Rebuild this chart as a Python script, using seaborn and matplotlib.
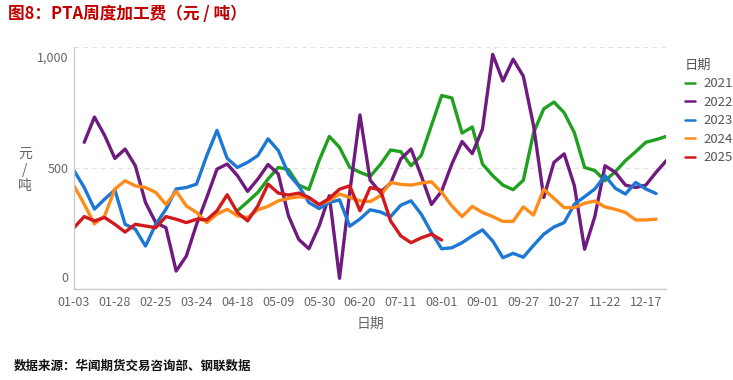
import pandas as pd
import matplotlib
matplotlib.use('Agg')
import matplotlib.pyplot as plt
import matplotlib.transforms as mtransforms
from matplotlib.lines import Line2D
import seaborn as sns

# category axis: 59 weekly dates, every 4th one labelled
n_cat = 59
tick_step = 4
tick_labels = ['01-03', '01-28', '02-25', '03-24', '04-18', '05-09', '05-30', '06-20',
               '07-11', '08-01', '09-01', '09-27', '10-27', '11-22', '12-17']

years = ['2021', '2022', '2023', '2024', '2025']
colors = ['#1fa01f', '#6e1a7e', '#1c78d4', '#ff8c1a', '#d2191d']

# first category index of each year
start_2021 = 16
start_2022 = 1
start_2023 = 0
start_2024 = 0
start_2025 = 0

fee_2021 = [324, 361, 400, 455, 503, 494, 430, 412, 531, 631, 586, 503, 483, 466, 515,
            575, 568, 510, 552, 676, 800, 790, 645, 670, 517, 469, 430, 411, 450, 646,
            745, 773, 729, 646, 503, 490, 448, 485, 531, 568, 607, 618, 631]
fee_2022 = [607, 711, 635, 540, 579, 510, 358, 275, 254, 75, 137, 268, 379, 496, 517,
            469, 404, 455, 515, 476, 303, 206, 167, 261, 386, 45, 400, 720, 450, 400,
            438, 538, 579, 469, 350, 405, 517, 610, 560, 662, 970, 860, 950, 880, 676,
            379, 524, 559, 427, 165, 300, 510, 483, 430, 420, 430, 483, 531]
fee_2023 = [490, 420, 331, 372, 410, 268, 248, 178, 268, 330, 414, 420, 434, 552, 656,
            540, 503, 524, 552, 621, 573, 476, 427, 358, 333, 358, 369, 260, 290, 328,
            319, 300, 347, 365, 310, 234, 167, 171, 192, 220, 245, 199, 130, 148, 132,
            181, 227, 257, 275, 351, 382, 414, 469, 417, 393, 441, 414, 395]
fee_2024 = [427, 351, 270, 303, 414, 448, 427, 420, 400, 350, 405, 344, 317, 275, 310,
            330, 303, 296, 328, 342, 365, 375, 382, 378, 351, 366, 393, 379, 365, 362,
            386, 441, 433, 430, 438, 444, 400, 344, 300, 342, 317, 300, 280, 280, 340,
            306, 413, 375, 337, 337, 355, 364, 340, 330, 317, 286, 286, 289]
fee_2025 = [254, 300, 282, 296, 268, 236, 268, 261, 254, 300, 289, 275, 289, 286, 324,
            390, 317, 282, 344, 434, 397, 389, 397, 379, 349, 375, 413, 427, 324, 420,
            410, 282, 220, 192, 212, 227, 203]

starts = [start_2021, start_2022, start_2023, start_2024, start_2025]
series = [fee_2021, fee_2022, fee_2023, fee_2024, fee_2025]

rows = []
for year, start, vals in zip(years, starts, series):
    for k, v in enumerate(vals):
        rows.append({'pos': start + k, 'value': v, 'year': year})
df = pd.DataFrame(rows)

sns.set_theme(style='white')
plt.rcParams['font.family'] = ['Noto Sans CJK SC', 'DejaVu Sans']

fig = plt.figure(figsize=(7.33, 3.8), dpi=100)
ax = fig.add_axes([0.101, 0.239, 0.808, 0.637])

sns.lineplot(data=df, x='pos', y='value', hue='year', hue_order=years,
             palette=colors, linewidth=2.4, ax=ax, legend=False)
for line in ax.lines:
    line.set_solid_joinstyle('round')
    line.set_solid_capstyle('round')

ax.set_xlim(0, n_cat - 1)
ax.set_ylim(0, 1000)
ax.set_xticks(range(0, len(tick_labels) * tick_step, tick_step))
ax.set_xticklabels(tick_labels)
ax.set_yticks([0, 500, 1000])
ax.set_yticklabels(['0', '500', '1,000'])
ax.set_xlabel('')
ax.set_ylabel('')
ax.tick_params(axis='both', length=0, labelsize=9, labelcolor='#666666')
ax.tick_params(axis='x', pad=5)
ax.tick_params(axis='y', pad=4)

ax.grid(axis='y', linestyle=(0, (4, 3)), color='#e3e3e3', linewidth=0.9)
ax.set_axisbelow(True)
for side in ['top', 'right']:
    ax.spines[side].set_visible(False)
for side in ['left', 'bottom']:
    ax.spines[side].set_color('#cccccc')
    ax.spines[side].set_linewidth(1)

# echarts style: first and last y labels pulled inside the axis
ylabs = ax.get_yticklabels()
ylabs[0].set_transform(ylabs[0].get_transform() +
                       mtransforms.ScaledTranslation(0, 9 / 72, fig.dpi_scale_trans))
ylabs[-1].set_transform(ylabs[-1].get_transform() +
                        mtransforms.ScaledTranslation(0, -7 / 72, fig.dpi_scale_trans))

handles = [Line2D([0], [0], color=c, lw=1.8) for c in colors]
leg = fig.legend(handles, years, title='日期', loc='upper left',
                 bbox_to_anchor=(0.918, 0.877), frameon=False, fontsize=9.5,
                 title_fontsize=9.5, handlelength=0.8, handletextpad=0.6,
                 labelspacing=0.42, alignment='left')
for t in leg.get_texts():
    t.set_color('#555555')
leg.get_title().set_color('#555555')

fig.text(0.011, 0.963, '图8：PTA周度加工费（元 / 吨）', color='#c00000',
         fontsize=12, fontweight='bold', va='center', ha='left')
fig.text(0.034, 0.553, '元\n/\n吨', color='#666666', fontsize=10,
         ha='center', va='center', linespacing=1.15)
fig.text(0.505, 0.148, '日期', color='#666666', fontsize=10, ha='center', va='center')
fig.text(0.019, 0.037, '数据来源：华闻期货交易咨询部、钢联数据', color='#111111',
         fontsize=9, fontweight='bold', va='center', ha='left')

fig.savefig('out.png', dpi=100)
